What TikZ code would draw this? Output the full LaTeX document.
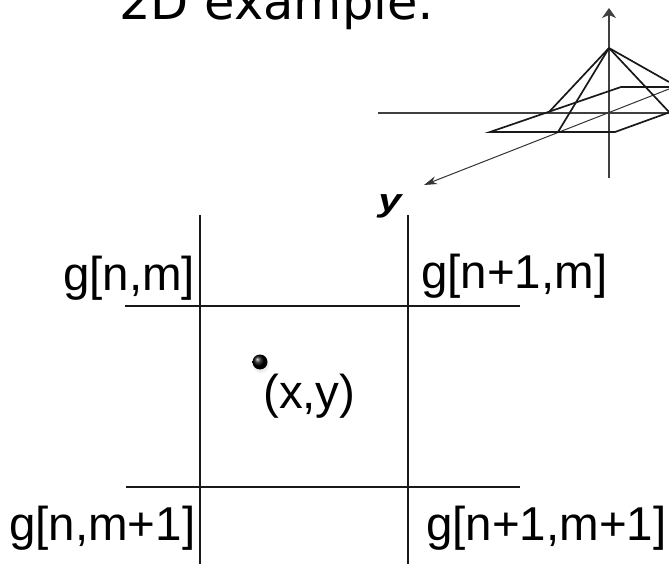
\documentclass[tikz,border=0pt]{standalone}
\usepackage{fontspec}
\setmainfont{Liberation Sans}
\newfontfamily\titlefont{DejaVu Sans}
\usetikzlibrary{arrows.meta}
\tikzset{
	label/.style={inner sep=0pt, font=\fontsize{47.5}{47.5}\selectfont},
	grid/.style={line width=1.5pt, black!90},
	axis/.style={line width=1.3pt, black!75},
	edge/.style={line width=1.7pt, black!90},
}
\begin{document}
\begin{tikzpicture}[x=1pt, y=-1pt]
	\useasboundingbox (0,0) rectangle (669,564);
	\clip (0,0) rectangle (669,564);
	\node[inner sep=0pt, anchor=base west, font=\titlefont\fontsize{49.5}{49.5}\selectfont] (title) at (119,20) {2D example:};
	% surface plot
	\node[shape=coordinate] (top) at (609,8) {};
	\node[shape=coordinate] (bot) at (609,178) {};
	\node[shape=coordinate] (apex) at (609,48) {};
	\node[shape=coordinate] (xl) at (378,113) {};
	\node[shape=coordinate] (xr) at (669,113) {};
	\node[shape=coordinate] (yr) at (669,89) {};
	\node[shape=coordinate] (yl) at (424,185) {};
	\node[shape=coordinate] (p1) at (490,132) {};
	\node[shape=coordinate] (p2) at (615,132) {};
	\node[shape=coordinate] (p3) at (673,111) {};
	\node[shape=coordinate] (p4) at (621,87) {};
	\node[shape=coordinate] (p5) at (669,87) {};
	\node[shape=coordinate] (b1) at (549,112) {};
	\node[shape=coordinate] (b2) at (558,132) {};
	\node[shape=coordinate] (b3) at (669,112) {};
	\node[shape=coordinate] (b4) at (669,82) {};
	\draw[axis, -{Stealth[length=10pt, width=14pt, inset=3pt]}] (bot) -- (top);
	\draw[axis] (xl) -- (xr);
	\draw[line width=1pt, black!80, -{Stealth[length=13pt, width=8pt]}] (yr) -- (yl);
	\draw[edge] (p5) -- (p4) -- (p1) -- (p2) -- (p3);
	\draw[edge] (apex) -- (b1);
	\draw[edge] (apex) -- (b2);
	\draw[edge] (apex) -- (b3);
	\draw[edge] (apex) -- (b4);
	\node[inner sep=0pt, xscale=1.3, font=\fontsize{32}{32}\selectfont\itshape\bfseries] (ylabel) at (390,206) {y};
	% sample grid
	\node[shape=coordinate] (v1t) at (200,215) {};
	\node[shape=coordinate] (v1b) at (200,564) {};
	\node[shape=coordinate] (v2t) at (408,215) {};
	\node[shape=coordinate] (v2b) at (408,564) {};
	\node[shape=coordinate] (h1l) at (125,306) {};
	\node[shape=coordinate] (h1r) at (520,306) {};
	\node[shape=coordinate] (h2l) at (126,487) {};
	\node[shape=coordinate] (h2r) at (520,487) {};
	\draw[grid] (v1t) -- (v1b);
	\draw[grid] (v2t) -- (v2b);
	\draw[grid] (h1l) -- (h1r);
	\draw[grid] (h2l) -- (h2r);
	\node[label, anchor=base west] (nm) at (63,290) {g[n,m]};
	\node[label, anchor=base west] (n1m) at (421,288) {g[n+1,m]};
	\node[label, anchor=base west] (nm1) at (9,540) {g[n,m+1]};
	\node[label, anchor=base west] (n1m1) at (426,540) {g[n+1,m+1]};
	\node[label, anchor=base west] (xy) at (263,408) {(x,y)};
	\node[circle, minimum size=16pt, inner sep=0pt, black!10, fill, opacity=.6] (halo) at (261,365) {};
	\node[circle, minimum size=15pt, inner sep=0pt, ball color=black] (dot) at (260,362) {};
\end{tikzpicture}
\end{document}
